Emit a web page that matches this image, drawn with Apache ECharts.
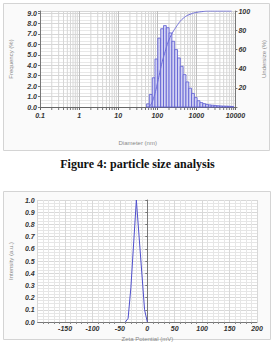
<!DOCTYPE html>
<html>
<head>
<meta charset="utf-8">
<script src="https://cdn.jsdelivr.net/npm/echarts@6/dist/echarts.min.js"></script>
<style>
  html, body { margin: 0; padding: 0; background: #fff; }
  #chart { width: 275px; height: 353px; }
</style>
</head>
<body>
<div id="chart"></div>
<script>
// particle size histogram (bin centre in nm, frequency %)
const binDiam = [58, 68, 81, 95, 112, 133, 157, 185, 218, 257, 304, 358, 423, 499, 589, 695,
  820, 967, 1141, 1347, 1589, 1875, 2213, 2611, 3081, 3636, 4290, 5062, 5974, 7049, 8318];
const binFreq = [0.3, 1.2, 2.8, 4.6, 6.6, 7.5, 7.8, 7.6, 7.1, 6.3, 5.5, 4.7, 3.9, 3.1, 2.4, 1.8,
  1.3, 0.9, 0.6, 0.42, 0.32, 0.25, 0.2, 0.17, 0.14, 0.12, 0.1, 0.09, 0.08, 0.07, 0.05];
const BIN_RATIO = 1.18;

// undersize curve (nm, %)
const cumDiam = [60, 70, 80, 90, 100, 112, 125, 140, 160, 180, 200, 250, 300, 350, 400, 500,
  600, 800, 1000, 1500, 2000, 5000, 8000];
const cumPct = [0, 3, 9, 16, 24, 33, 42, 50, 58, 65, 70, 78, 83, 87, 90, 93.5,
  95.5, 97.5, 98.5, 99.5, 100, 100, 100];

// zeta potential (mV, a.u.)
const zetaMv = [-40, -35, -30, -20, -5, 0];
const zetaInt = [0, 0.03, 0.28, 1.0, 0.1, 0];

const decadeLabels = ['0.1', '1', '10', '100', '1000', '10000'];

// log minor grid positions 2..9 per decade
const logMinor = [];
[0.1, 1, 10, 100, 1000].forEach(d => {
  for (let k = 2; k <= 9; k++) logMinor.push(+(d * k).toPrecision(3));
});

const font = 'Liberation Sans';
const lbl = { color: '#333', fontSize: 7, fontStyle: 'italic', fontWeight: 'bold', fontFamily: font };
const nameStyle = { color: '#888', fontSize: 6, fontFamily: font };

const chart = echarts.init(document.getElementById('chart'), null, { renderer: 'svg' });
chart.setOption({
  animation: false,
  backgroundColor: '#fff',
  title: {
    text: 'Figure 4: particle size analysis',
    left: 'center', top: 153,
    textStyle: { fontFamily: 'Liberation Serif', fontSize: 12, fontWeight: 'bold', color: '#111' }
  },
  graphic: [
    { type: 'rect', z: -10, shape: { x: 3.5, y: 3.5, width: 266, height: 147 },
      style: { fill: '#fafafa', stroke: '#d4d4d4', lineWidth: 1 } },
    { type: 'rect', z: -10, shape: { x: 3.5, y: 191.5, width: 267, height: 148 },
      style: { fill: '#fafafa', stroke: '#d4d4d4', lineWidth: 1 } }
  ],
  grid: [
    { left: 35, top: 11, width: 206, height: 96, show: true, backgroundColor: '#fff', borderWidth: 0 },
    { left: 32, top: 200, width: 225, height: 122, show: true, backgroundColor: '#fff', borderWidth: 0 }
  ],
  xAxis: [
    {
      gridIndex: 0, type: 'log', logBase: 10, min: 0.1, max: 10000,
      name: 'Diameter (nm)', nameLocation: 'middle', nameGap: 33, nameTextStyle: nameStyle,
      axisLine: { lineStyle: { color: '#666' } },
      axisTick: { show: true, length: 3, lineStyle: { color: '#666' } },
      axisLabel: Object.assign({ margin: 5, formatter: v => decadeLabels[Math.round(Math.log10(v)) + 1] }, lbl),
      splitLine: { show: true, lineStyle: { color: '#bdbdbd', width: 1 } }
    },
    {
      gridIndex: 1, type: 'value', min: -200, max: 200, interval: 50,
      name: 'Zeta Potential (mV)', nameLocation: 'middle', nameGap: 14, nameTextStyle: nameStyle,
      axisLine: { lineStyle: { color: '#777' } },
      axisTick: { show: false },
      minorTick: { show: true, splitNumber: 5, length: 2, lineStyle: { color: '#888' } },
      axisLabel: Object.assign({ margin: 3, formatter: v => (v === -200 ? '' : String(v)) }, lbl),
      splitLine: { show: true, lineStyle: { color: '#d8d8d8' } },
      minorSplitLine: { show: true, lineStyle: { color: '#e6e6e6' } }
    }
  ],
  yAxis: [
    {
      gridIndex: 0, type: 'value', min: 0, max: 9.2, interval: 1,
      name: 'Frequency (%)', nameLocation: 'middle', nameGap: 26, nameTextStyle: nameStyle,
      axisLine: { show: true, lineStyle: { color: '#777' } },
      axisTick: { show: true, length: 2, lineStyle: { color: '#777' } },
      axisLabel: Object.assign({ margin: 3, formatter: v => (Number.isInteger(v) ? v.toFixed(1) : '') }, lbl),
      splitLine: { show: true, lineStyle: { color: '#d6d6d6' } },
      minorTick: { show: false, splitNumber: 3 },
      minorSplitLine: { show: true, lineStyle: { color: '#e8e8e8' } }
    },
    {
      gridIndex: 0, type: 'value', min: 0, max: 100, interval: 20, position: 'right',
      name: 'Undersize (%)', nameLocation: 'middle', nameGap: 24, nameRotate: 90, nameTextStyle: nameStyle,
      axisLine: { show: true, lineStyle: { color: '#777' } },
      axisTick: { show: true, length: 2, lineStyle: { color: '#777' } },
      axisLabel: Object.assign({ margin: 3, formatter: v => (v === 0 ? '' : String(v)) }, lbl),
      splitLine: { show: false }
    },
    {
      gridIndex: 1, type: 'value', min: 0, max: 1, interval: 0.1,
      name: 'Intensity (a.u.)', nameLocation: 'middle', nameGap: 22, nameTextStyle: nameStyle,
      axisLine: { show: true, lineStyle: { color: '#777' } },
      axisTick: { show: true, length: 2, lineStyle: { color: '#777' } },
      axisLabel: Object.assign({ margin: 3, formatter: v => v.toFixed(1) }, lbl),
      splitLine: { show: true, lineStyle: { color: '#d8d8d8' } },
      minorTick: { show: false, splitNumber: 4 },
      minorSplitLine: { show: true, lineStyle: { color: '#e6e6e6' } }
    }
  ],
  series: [
    {
      // log minor grid lines + small ticks under the axis
      type: 'custom', xAxisIndex: 0, yAxisIndex: 0, z: 1, silent: true,
      data: logMinor.map(x => [x, 0]),
      encode: { x: 0, y: 1 },
      renderItem: (params, api) => {
        const x = api.value(0);
        const b = api.coord([x, 0]);
        const t = api.coord([x, 9.2]);
        return {
          type: 'group',
          children: [
            { type: 'line', shape: { x1: b[0], y1: b[1], x2: t[0], y2: t[1] },
              style: { stroke: '#d6d6d6', lineWidth: 1 } },
            { type: 'line', shape: { x1: b[0], y1: b[1] + 1, x2: b[0], y2: b[1] + 3 },
              style: { stroke: '#777', lineWidth: 1 } }
          ]
        };
      }
    },
    {
      type: 'custom', xAxisIndex: 0, yAxisIndex: 0, z: 3,
      data: binDiam.map((d, i) => [d, binFreq[i]]),
      encode: { x: 0, y: 1 },
      renderItem: (params, api) => {
        const c = api.value(0), v = api.value(1);
        const h = Math.sqrt(BIN_RATIO);
        const p0 = api.coord([c / h, v]);
        const p1 = api.coord([c * h, 0]);
        return {
          type: 'rect',
          shape: { x: p0[0], y: p0[1], width: p1[0] - p0[0], height: p1[1] - p0[1] },
          style: { fill: '#d2d2f3', stroke: '#5a5ad2', lineWidth: 0.8 }
        };
      }
    },
    {
      type: 'line', xAxisIndex: 0, yAxisIndex: 1, z: 4,
      data: cumDiam.map((d, i) => [d, cumPct[i]]),
      smooth: true, symbol: 'none',
      lineStyle: { color: '#6d6dd8', width: 1 }
    },
    {
      type: 'line', xAxisIndex: 1, yAxisIndex: 2,
      data: zetaMv.map((x, i) => [x, zetaInt[i]]),
      symbol: 'none',
      lineStyle: { color: '#4f4fcc', width: 1 }
    }
  ]
});
</script>
</body>
</html>
